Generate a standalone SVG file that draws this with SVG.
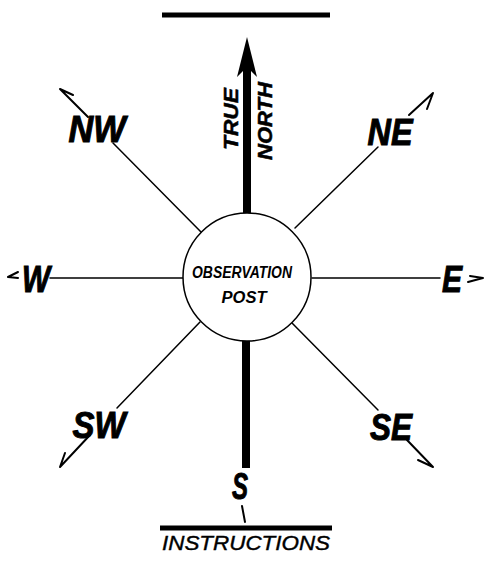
<svg xmlns="http://www.w3.org/2000/svg" width="485" height="561" viewBox="0 0 485 561">
<style>
.ln{stroke:#000;stroke-width:1.5;fill:none;stroke-linecap:round;stroke-linejoin:round}
.hd{stroke:#000;stroke-width:2;fill:none;stroke-linecap:round;stroke-linejoin:round}
.bar{stroke:#000;stroke-width:5;fill:none}
.dir{font-family:"Liberation Sans",Arial,sans-serif;font-weight:bold;font-style:italic;font-size:36px;fill:#000;stroke:#000;stroke-width:1}
.nt{font-family:"Liberation Sans",Arial,sans-serif;font-weight:bold;font-style:italic;font-size:21px;fill:#000;stroke:#000;stroke-width:0.5}
.op{font-family:"Liberation Sans",Arial,sans-serif;font-weight:bold;font-style:italic;font-size:16px;fill:#000}
.ins{font-family:"Liberation Sans",Arial,sans-serif;font-style:italic;font-size:20px;fill:#000;stroke:#000;stroke-width:0.4}
</style>
<rect width="485" height="561" fill="#fff"/>
<g id="connectors">
  <line class="bar" x1="162" y1="15" x2="330" y2="15"/>
  <line class="bar" x1="160" y1="528" x2="332" y2="528"/>
  <polygon points="247,37 257,77 251,71 243,71 237,77" fill="#000"/>
  <rect x="243" y="70" width="8" height="146" fill="#000"/>
  <rect x="242" y="339" width="8" height="129" fill="#000"/>
  <line class="ln" x1="113" y1="143" x2="202" y2="233"/>
  <line class="ln" x1="295" y1="228" x2="378" y2="147"/>
  <line class="ln" x1="50" y1="278" x2="183" y2="278"/>
  <line class="ln" x1="312" y1="278" x2="440" y2="278"/>
  <line class="ln" x1="200" y1="322" x2="117" y2="408"/>
  <line class="ln" x1="292" y1="323" x2="378" y2="410"/>
  <path class="hd" d="M88,117 L60,89 L73,95"/>
  <path class="hd" d="M409,115 L433,93 L427,109"/>
  <path class="hd" d="M18,272 L8,277 L18,278"/>
  <path class="hd" d="M468,282 L483,278 L470,276"/>
  <path class="hd" d="M90,435 L60,467 L65,453"/>
  <path class="hd" d="M407,440 L433,467 L418,460"/>
  <path class="hd" d="M242,506 L245,522"/>
</g>
<g id="post">
  <circle cx="247" cy="277" r="64" fill="#fff" stroke="#000" stroke-width="1.5"/>
  <text class="op" x="242" y="278" text-anchor="middle" textLength="100" lengthAdjust="spacingAndGlyphs">OBSERVATION</text>
  <text class="op" x="244" y="303" text-anchor="middle" textLength="45" lengthAdjust="spacingAndGlyphs">POST</text>
</g>
<g id="true-north">
  <text class="nt" transform="translate(238,119) rotate(-90)" text-anchor="middle" textLength="62" lengthAdjust="spacingAndGlyphs">TRUE</text>
  <text class="nt" transform="translate(272,121) rotate(-90)" text-anchor="middle" textLength="78" lengthAdjust="spacingAndGlyphs">NORTH</text>
</g>
<g id="nw"><text class="dir" x="97" y="142" text-anchor="middle" textLength="57" lengthAdjust="spacingAndGlyphs">NW</text></g>
<g id="ne"><text class="dir" x="390" y="145" text-anchor="middle" textLength="45" lengthAdjust="spacingAndGlyphs">NE</text></g>
<g id="w"><text class="dir" x="36" y="292" text-anchor="middle" textLength="28" lengthAdjust="spacingAndGlyphs">W</text></g>
<g id="e"><text class="dir" x="452" y="292" text-anchor="middle" textLength="20" lengthAdjust="spacingAndGlyphs">E</text></g>
<g id="sw"><text class="dir" x="99" y="438" text-anchor="middle" textLength="53" lengthAdjust="spacingAndGlyphs">SW</text></g>
<g id="se"><text class="dir" x="391" y="440" text-anchor="middle" textLength="42" lengthAdjust="spacingAndGlyphs">SE</text></g>
<g id="s"><text class="dir" x="240" y="499" text-anchor="middle" textLength="16" lengthAdjust="spacingAndGlyphs">S</text></g>
<g id="instructions"><text class="ins" x="246" y="550" text-anchor="middle" textLength="168" lengthAdjust="spacingAndGlyphs">INSTRUCTIONS</text></g>
</svg>
